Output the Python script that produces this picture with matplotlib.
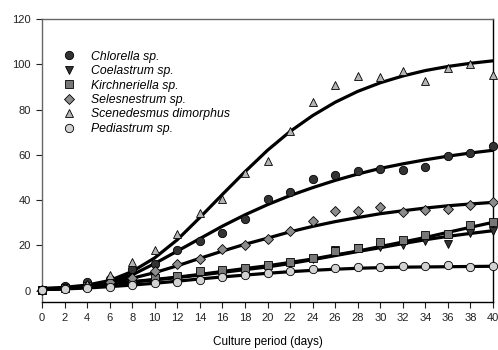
import matplotlib.pyplot as plt

plt.rcParams['font.family'] = ['Liberation Sans', 'DejaVu Sans']

# =========================
# DATA
# =========================
days = [0, 2, 4, 6, 8, 10, 12, 14, 16, 18, 20, 22, 24, 26, 28, 30, 32, 34, 36, 38, 40]

chlorella = [0.4, 1.9, 3.7, 5.0, 9.6, 11.8, 18.1, 21.8, 25.5, 31.8, 40.5, 43.6, 49.4, 51.0,
             53.0, 53.7, 53.4, 54.4, 59.3, 61.0, 63.7]
coelastrum = [0.5, 1.0, 1.8, 2.8, 3.8, 5.0, 6.0, 7.0, 8.0, 9.0, 10.5, 12.0, 14.0, 18.0,
              18.7, 19.3, 20.3, 21.8, 20.8, 25.5, 26.5]
kirchneriella = [0.5, 1.0, 2.0, 3.0, 4.0, 5.5, 6.5, 8.5, 9.0, 10.0, 11.2, 12.9, 14.4, 17.6,
                 18.9, 21.3, 22.2, 24.7, 25.0, 29.1, 30.2]
selenastrum = [0.5, 1.0, 2.0, 4.0, 5.5, 8.5, 11.8, 14.0, 18.4, 20.3, 22.8, 26.5, 30.6, 35.0,
               35.0, 37.0, 34.7, 35.5, 36.1, 37.7, 39.0]
scenedesmus = [0.5, 1.5, 3.0, 7.0, 12.5, 18.0, 25.0, 34.3, 40.5, 51.8, 57.4, 70.5, 83.3, 90.6,
               95.0, 94.2, 96.8, 92.8, 98.3, 100.0, 95.4]
pediastrum = [0.5, 0.8, 1.0, 1.8, 2.6, 3.2, 4.0, 4.9, 6.0, 7.0, 7.8, 8.5, 9.6, 10.0,
              10.5, 10.5, 10.7, 11.0, 11.5, 10.5, 10.7]

# fitted growth curves, sampled at the same days
chlorella_fit = [0.5, 1.0, 2.0, 4.0, 7.0, 12.0, 17.5, 23.0, 28.5, 33.5, 38.0, 42.0, 45.5,
                 48.7, 51.5, 54.0, 56.0, 57.8, 59.4, 60.8, 62.0]
coelastrum_fit = [0.5, 1.0, 1.8, 2.8, 3.8, 4.8, 5.8, 6.9, 8.1, 9.3, 10.5, 12.0, 13.7, 15.5,
                  17.3, 19.0, 20.8, 22.5, 24.0, 25.3, 26.5]
kirchneriella_fit = [0.5, 1.0, 2.0, 3.0, 4.0, 5.0, 6.0, 7.2, 8.5, 9.8, 11.0, 12.5, 14.0,
                     15.8, 17.5, 19.5, 21.5, 23.5, 25.8, 28.0, 30.2]
selenastrum_fit = [0.5, 1.0, 2.0, 3.5, 5.5, 8.0, 11.0, 14.3, 17.5, 20.5, 23.2, 26.0, 28.4,
                   30.5, 32.3, 34.0, 35.3, 36.5, 37.5, 38.3, 39.0]
scenedesmus_fit = [1.0, 1.5, 2.5, 4.5, 8.5, 14.5, 22.5, 32.3, 42.5, 52.5, 62.0, 70.3, 77.3,
                   83.2, 88.0, 91.8, 94.8, 97.2, 99.0, 100.4, 101.5]
pediastrum_fit = [0.5, 0.8, 1.2, 1.8, 2.5, 3.3, 4.2, 5.2, 6.1, 6.9, 7.7, 8.4, 9.0, 9.5,
                  9.9, 10.2, 10.4, 10.5, 10.6, 10.7, 10.8]

series = [
    ("Chlorella sp.", chlorella, chlorella_fit, "o", "#333333"),
    ("Coelastrum sp.", coelastrum, coelastrum_fit, "v", "#333333"),
    ("Kirchneriella sp.", kirchneriella, kirchneriella_fit, "s", "#777777"),
    ("Selesnestrum sp.", selenastrum, selenastrum_fit, "D", "#8c8c8c"),
    ("Scenedesmus dimorphus", scenedesmus, scenedesmus_fit, "^", "#b4b4b4"),
    ("Pediastrum sp.", pediastrum, pediastrum_fit, "o", "#d2d2d2"),
]

# =========================
# PLOT
# =========================
fig = plt.figure(figsize=(4.98, 3.5), dpi=100)
ax = fig.add_axes([0.0843, 0.137, 0.9057, 0.809])

for name, vals, fit, mk, col in series:
    ax.plot(days, fit, color="black", lw=2.3, zorder=2, solid_capstyle="round",
            solid_joinstyle="round")
for name, vals, fit, mk, col in series:
    ms = 5.0 if mk == "D" else 6.0
    ax.plot(days, vals, ls="none", marker=mk, ms=ms, mfc=col, mec="black",
            mew=0.6, label=name, zorder=3, clip_on=False)

ax.set_xlim(0, 40)
ax.set_ylim(-5, 120)
ax.set_xticks(range(0, 41, 2))
ax.set_yticks(range(0, 121, 20))
ax.tick_params(direction="out", length=4, width=0.8, labelsize=8, pad=4, colors="#222222")

ax.spines["left"].set_color("#666666")
ax.spines["top"].set_color("#666666")
ax.spines["bottom"].set_color("black")
ax.spines["right"].set_color("black")
for s in ax.spines.values():
    s.set_linewidth(1.0)

ax.set_xlabel("Culture period (days)", fontsize=8.5, labelpad=9)

leg = ax.legend(loc="upper left", bbox_to_anchor=(0.035, 0.905), frameon=False,
                prop={"style": "italic", "size": 8.8},
                handletextpad=1.3, labelspacing=0.2, borderaxespad=0,
                handlelength=1.0)

fig.savefig("out.png", dpi=100)
plt.close(fig)
